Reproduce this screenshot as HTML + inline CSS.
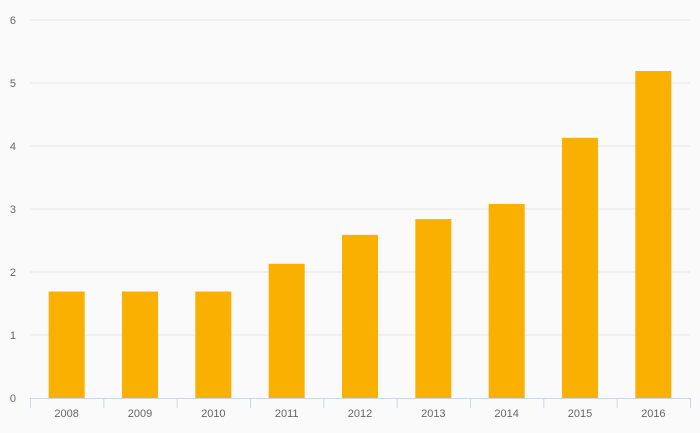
<!DOCTYPE html>
<html><head><meta charset="utf-8"><style>
html,body{margin:0;padding:0;background:#fafafa;}
svg{display:block;font-family:"Liberation Sans",sans-serif;}
</style></head><body>
<svg id="chart" width="700" height="433"></svg>
<script>
const categories=["2008","2009","2010","2011","2012","2013","2014","2015","2016"];
const values=[1.69,1.69,1.69,2.13,2.59,2.84,3.08,4.13,5.19];
const yTicks=[0,1,2,3,4,5,6];
const NS="http://www.w3.org/2000/svg";
const svg=document.getElementById("chart");
const L=30,R=690,T=20,B=398,YMAX=6;
const y=v=>B-(v/YMAX)*(B-T);
const band=(R-L)/categories.length;
const x=i=>L+band*i;
function mk(tag,attrs,parent){const e=document.createElementNS(NS,tag);for(const k in attrs)e.setAttribute(k,attrs[k]);(parent||svg).appendChild(e);return e;}
const grid=mk("g",{});


yTicks.forEach(t=>{
  if(t>0){const l=mk("line",{x1:L,x2:R,y1:y(t),y2:y(t),stroke:"#e6e6e6","stroke-width":1},grid);
  
  }
  const tx=mk("text",{x:16,y:y(t)+4,"text-anchor":"end","font-size":11,fill:"#666"},grid);
  tx.textContent=t;
  
  
});
const bars=mk("g",{});


const bw=36;
values.forEach((v,i)=>{
  const cx=x(i)+band/2;
  const r=mk("rect",{x:cx-bw/2,y:y(v),width:bw,height:B-y(v),fill:"#f9b000"},bars);
  
  
  const tx=mk("text",{x:cx,y:417,"text-anchor":"middle","font-size":11,fill:"#666"},bars);
  tx.textContent=categories[i];
  
  
});
const ax=mk("g",{});


mk("line",{x1:L,x2:R,y1:B+0.5,y2:B+0.5,stroke:"#ccd6eb","stroke-width":1},ax);
for(let i=0;i<=categories.length;i++){
  const tk=mk("line",{x1:x(i)+0.5,x2:x(i)+0.5,y1:B,y2:B+10,stroke:"#ccd6eb","stroke-width":1},ax);
  
  
}
</script>
</body></html>
